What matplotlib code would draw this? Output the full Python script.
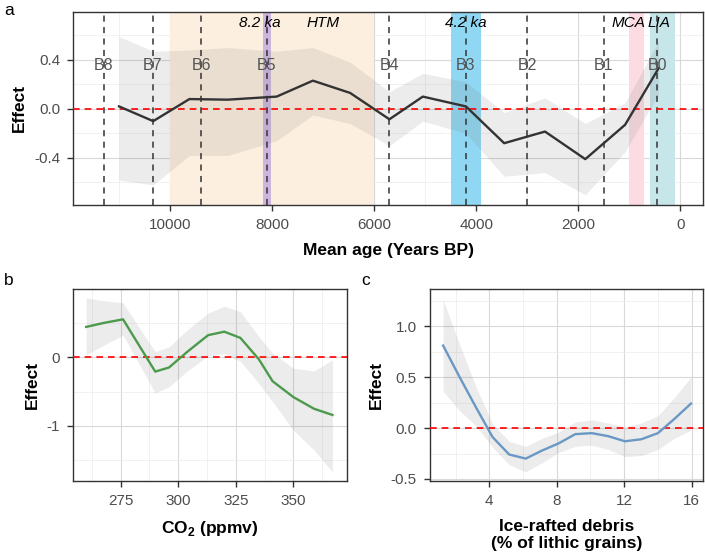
import matplotlib.pyplot as plt
from matplotlib.ticker import MultipleLocator

plt.rcParams['font.family'] = ['Liberation Sans', 'DejaVu Sans']
plt.rcParams['axes.unicode_minus'] = False
plt.rcParams['mathtext.fontset'] = 'custom'
plt.rcParams['mathtext.rm'] = 'Liberation Sans'
plt.rcParams['mathtext.bf'] = 'Liberation Sans:bold'

# panel a: effect of mean age
age = [11000, 10330, 9620, 8870, 7910, 7200, 6470, 5700, 5045, 4200, 3450, 2650, 1860, 1080, 425]
age_eff = [0.02, -0.10, 0.08, 0.075, 0.10, 0.23, 0.13, -0.085, 0.10, 0.02, -0.28, -0.185, -0.41, -0.13, 0.33]
age_lo = [-0.58, -0.62, -0.38, -0.38, -0.26, -0.05, -0.12, -0.30, -0.10, -0.20, -0.55, -0.52, -0.70, -0.35, 0.12]
age_hi = [0.59, 0.47, 0.48, 0.50, 0.47, 0.50, 0.38, 0.14, 0.29, 0.22, -0.03, 0.09, -0.12, 0.05, 0.55]

bond_ages = [11300, 10340, 9390, 8100, 5700, 4200, 3000, 1500, 445]
bond_names = ['B8', 'B7', 'B6', 'B5', 'B4', 'B3', 'B2', 'B1', 'B0']

period_names = ['HTM', '8.2 ka', '4.2 ka', 'MCA', 'LIA']
period_start = [10000, 8170, 4500, 1000, 600]
period_end = [6000, 8030, 3900, 700, 110]
period_label_x = [7000, 8250, 4200, 1020, 410]
period_colors = ['#fcefdf', '#cdb5de', '#8fd7f3', '#fcdce2', '#c6e6ea']

# panel b: effect of CO2
co2 = [260, 268, 276, 283, 290, 296, 304, 313, 320, 327, 335, 341, 350, 359, 367]
co2_eff = [0.44, 0.50, 0.55, 0.17, -0.21, -0.15, 0.08, 0.32, 0.37, 0.28, -0.03, -0.35, -0.58, -0.75, -0.84]
co2_lo = [0.03, 0.18, 0.32, -0.10, -0.52, -0.43, -0.20, 0.02, 0.05, -0.06, -0.38, -0.65, -1.06, -1.35, -1.67]
co2_hi = [0.86, 0.82, 0.79, 0.43, 0.08, 0.15, 0.40, 0.64, 0.74, 0.66, 0.30, 0.06, -0.16, -0.20, -0.04]

# panel c: effect of ice-rafted debris
ird = [1.26, 2.24, 3.22, 4.2, 5.18, 6.16, 7.14, 8.12, 9.1, 10.08, 11.06, 12.04, 13.02, 14.0, 14.98, 15.96]
ird_eff = [0.81, 0.50, 0.20, -0.09, -0.26, -0.30, -0.22, -0.15, -0.06, -0.05, -0.08, -0.13, -0.11, -0.05, 0.09, 0.24]
ird_lo = [0.36, 0.17, 0.02, -0.19, -0.36, -0.43, -0.34, -0.24, -0.18, -0.17, -0.21, -0.28, -0.27, -0.21, -0.10, -0.02]
ird_hi = [1.26, 0.82, 0.40, 0.04, -0.13, -0.18, -0.10, -0.04, 0.06, 0.08, 0.05, 0.01, 0.05, 0.12, 0.30, 0.50]


def style_axis(ax, xmaj, ymaj):
    ax.xaxis.set_major_locator(MultipleLocator(xmaj))
    ax.xaxis.set_minor_locator(MultipleLocator(xmaj / 2))
    ax.yaxis.set_major_locator(MultipleLocator(ymaj))
    ax.yaxis.set_minor_locator(MultipleLocator(ymaj / 2))
    ax.grid(which='major', color='#d9d9d9', lw=0.8, zorder=0)
    ax.grid(which='minor', color='#ececec', lw=0.5, zorder=0)
    ax.set_axisbelow(True)
    ax.tick_params(which='major', direction='out', length=4, width=1, color='#333333',
                   labelcolor='#4d4d4d', labelsize=11, pad=5.5)
    ax.tick_params(which='minor', length=0)
    for s in ax.spines.values():
        s.set_color('#333333')
        s.set_linewidth(1)
    ax.axhline(0, color='#ff0000', lw=1.2, ls=(0, (4, 3)), zorder=4)
    ax.set_ylabel('Effect', fontsize=12.5, fontweight='bold', labelpad=5)


fig = plt.figure(figsize=(7.05, 5.58), dpi=100)

# ---- a
ax = fig.add_axes([0.104, 0.6335, 0.893, 0.345])
for name, x0, x1, c in zip(period_names, period_start, period_end, period_colors):
    ax.axvspan(x0, x1, color=c, lw=0, zorder=1)
ax.fill_between(age, age_lo, age_hi, color='#808080', alpha=0.15, lw=0, zorder=2)
ax.plot(age, age_eff, color='#333333', lw=1.7, zorder=5)
for x, b in zip(bond_ages, bond_names):
    ax.axvline(x, color='#333333', lw=1.1, ls=(0, (4, 3.5)), zorder=3)
    ax.text(x, 0.35, b, ha='center', va='center', fontsize=11.5, color='#555555', zorder=6)
for name, x in zip(period_names, period_label_x):
    ax.text(x, 0.70, name, ha='center', va='center', fontsize=11, style='italic', zorder=6)
ax.set_xlim(11896, -445)
ax.set_ylim(-0.78, 0.79)
style_axis(ax, 2000, 0.4)
ax.set_xlabel('Mean age (Years BP)', fontsize=12.5, fontweight='bold', labelpad=8)

# ---- b
ax = fig.add_axes([0.104, 0.138, 0.3878, 0.344])
ax.fill_between(co2, co2_lo, co2_hi, color='#808080', alpha=0.15, lw=0, zorder=2)
ax.plot(co2, co2_eff, color='#4c9a4c', lw=1.7, zorder=5)
ax.set_xlim(254.4, 373.2)
ax.set_ylim(-1.80, 0.99)
style_axis(ax, 25, 1)
ax.set_xlabel(r'CO$_\mathbf{2}$ (ppmv)', fontsize=12.5, fontweight='bold', labelpad=8)

# ---- c
ax = fig.add_axes([0.61, 0.138, 0.3868, 0.344])
ax.fill_between(ird, ird_lo, ird_hi, color='#808080', alpha=0.15, lw=0, zorder=2)
ax.plot(ird, ird_eff, color='#6a98c4', lw=1.7, zorder=5)
ax.set_xlim(0.485, 16.66)
ax.set_ylim(-0.52, 1.365)
style_axis(ax, 4, 0.5)
ax.yaxis.set_major_formatter(lambda v, p: f'{v:.1f}')
ax.set_xlabel('Ice-rafted debris\n(% of lithic grains)', fontsize=12.5, fontweight='bold',
              labelpad=8, linespacing=1.1)

fig.text(0.006, 0.995, 'a', va='top', fontsize=12.5)
fig.text(0.006, 0.511, 'b', va='top', fontsize=12.5)
fig.text(0.512, 0.511, 'c', va='top', fontsize=12.5)

fig.savefig('out.png', dpi=100)
